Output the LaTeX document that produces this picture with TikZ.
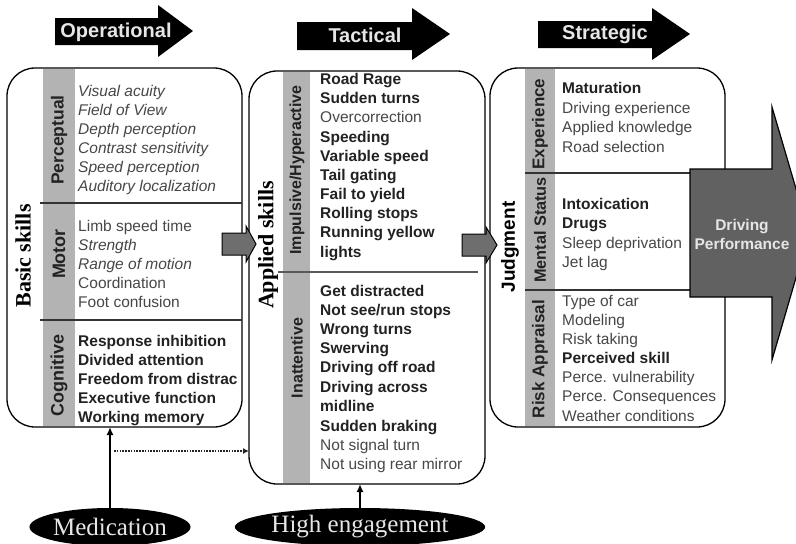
\documentclass[tikz,border=0pt]{standalone}
\usepackage{fontspec}
\setmainfont{Liberation Serif}
\setsansfont{Liberation Sans}
\usetikzlibrary{shapes.geometric,arrows.meta}
\definecolor{stripe}{HTML}{B3B3B3}
\definecolor{txtrm}{HTML}{474747}
\definecolor{txtbf}{HTML}{222222}
\definecolor{dpfill}{HTML}{616161}
\definecolor{garrow}{HTML}{6E6E6E}
\definecolor{lighttxt}{HTML}{E6E6E6}
\tikzset{
  panel/.style={draw=black, line width=1.3pt, rounded corners=28pt, fill=white, inner sep=0pt, outer sep=0pt},
  itm/.style={anchor=west, inner sep=0pt, text height=11pt, text depth=3pt, text=txtrm, font=\sffamily\fontsize{15.5}{18}\selectfont},
  rmi/.style={text=txtrm},
  iti/.style={text=txtrm, font=\sffamily\itshape\fontsize{15.5}{18}\selectfont},
  bfi/.style={text=txtbf, font=\sffamily\bfseries\fontsize{15.5}{18}\selectfont},
  cat/.style={rotate=90, inner sep=0pt, text=txtbf, font=\sffamily\bfseries\fontsize{17}{20}\selectfont},
  bigl/.style={rotate=90, inner sep=0pt, text=black, font=\bfseries\fontsize{22}{26}\selectfont},
  hdrtext/.style={inner sep=0pt, text=lighttxt, font=\sffamily\bfseries\fontsize{20}{24}\selectfont},
  divider/.style={draw=black!80, line width=1.4pt},
  garr/.style={fill=garrow, draw=black, line width=1pt},
  oval/.style={ellipse, fill=black, inner sep=0pt, minimum height=38pt, text=lighttxt, font=\fontsize{25}{30}\selectfont},
  conn/.style={draw=black, line width=2.2pt, -{Latex[length=8pt,width=7pt]}},
  dotconn/.style={draw=black!85, line width=1.8pt, dash pattern=on 1.6pt off 1.2pt, -{Latex[length=6pt,width=6pt]}}
}
\newcommand\itemline[4]{\node[itm,#2] (#1) at #3 {#4};}
\begin{document}
\begin{tikzpicture}[x=1pt,y=-1pt]
\useasboundingbox (0,0) rectangle (796,544);
\clip (0,0) rectangle (796,544);

% header arrows
\fill[black] (55,18) -- (158,18) -- (158,5) -- (193,31) -- (158,57) -- (158,45) -- (55,45) -- cycle;
\node[hdrtext] (hop) at (116,32) {Operational};
\fill[black] (297,22) -- (412,22) -- (412,8) -- (450,34) -- (412,60) -- (412,50) -- (297,50) -- cycle;
\node[hdrtext] (htac) at (365,35) {Tactical};
\fill[black] (538,21) -- (652,21) -- (652,8) -- (690,34) -- (652,60) -- (652,48) -- (538,48) -- cycle;
\node[hdrtext] (hstr) at (605,34) {Strategic};

% panels
\node[panel, minimum width=235pt, minimum height=359pt] (lp) at (124.5,247.5) {};
\node[panel, minimum width=236pt, minimum height=413pt] (mp) at (367,277.5) {};
\node[panel, minimum width=235pt, minimum height=359pt] (rp) at (607.5,247.5) {};

% stripes
\fill[stripe] (43,68.7) rectangle (75,426.3);
\fill[stripe] (283,71.7) rectangle (310,483.3);
\fill[stripe] (525,68.7) rectangle (555,426.3);

% dividers
\draw[divider] (40,203) -- (242,203);
\draw[divider] (40,320) -- (242,320);
\draw[divider, draw=black!65] (278,272) -- (478,272);
\draw[divider] (525,173) -- (725,173);
\draw[divider] (525,290) -- (725,290);

% big rotated labels
\node[bigl] (basic) at (23,256) {Basic skills};
\node[bigl] (applied) at (268,245) {Applied skills};
\node[bigl, font=\sffamily\bfseries\fontsize{19}{23}\selectfont] (judg) at (510,247) {Judgment};

% category labels
\node[cat, font=\sffamily\bfseries\fontsize{17.5}{20}\selectfont] (cper) at (59,140) {Perceptual};
\node[cat, font=\sffamily\bfseries\fontsize{18}{20}\selectfont] (cmot) at (59,254) {Motor};
\node[cat, font=\sffamily\bfseries\fontsize{18}{20}\selectfont] (ccog) at (59,375) {Cognitive};
\node[cat, font=\sffamily\bfseries\fontsize{16}{20}\selectfont] (cimp) at (297,170) {Impulsive/Hyperactive};
\node[cat, font=\sffamily\bfseries\fontsize{16}{20}\selectfont] (cina) at (297,358) {Inattentive};
\node[cat] (cexp) at (540,124) {Experience};
\node[cat, font=\sffamily\bfseries\fontsize{16.3}{20}\selectfont] (cmen) at (540,230) {Mental Status};
\node[cat] (crisk) at (540,359) {Risk Appraisal};

% left panel items
\itemline{pa}{iti}{(78,92)}{Visual acuity}
\itemline{pb}{iti}{(78,111)}{Field of View}
\itemline{pc}{iti}{(78,130)}{Depth perception}
\itemline{pd}{iti}{(78,149)}{Contrast sensitivity}
\itemline{pe}{iti}{(78,168)}{Speed perception}
\itemline{pf}{iti}{(78,187)}{Auditory localization}
\itemline{ma}{rmi}{(78,227)}{Limb speed time}
\itemline{mb}{iti}{(78,246)}{Strength}
\itemline{mc}{iti}{(78,265)}{Range of motion}
\itemline{md}{rmi}{(78,284)}{Coordination}
\itemline{me}{rmi}{(78,303)}{Foot confusion}
\itemline{ca}{bfi}{(78,342)}{Response inhibition}
\itemline{cb}{bfi}{(78,361)}{Divided attention}
\itemline{cc}{bfi}{(78,380)}{Freedom from distrac}
\itemline{cd}{bfi}{(78,399)}{Executive function}
\itemline{ce}{bfi}{(78,418)}{Working memory}

% middle panel items
\itemline{ia}{bfi}{(320,80)}{Road Rage}
\itemline{ib}{bfi}{(320,99)}{Sudden turns}
\itemline{ic}{rmi}{(320,118)}{Overcorrection}
\itemline{id}{bfi}{(320,138)}{Speeding}
\itemline{ie}{bfi}{(320,157)}{Variable speed}
\itemline{if}{bfi}{(320,176)}{Tail gating}
\itemline{ig}{bfi}{(320,195)}{Fail to yield}
\itemline{ih}{bfi}{(320,214)}{Rolling stops}
\itemline{ii}{bfi}{(320,233)}{Running yellow}
\itemline{ij}{bfi}{(320,253)}{lights}
\itemline{na}{bfi}{(320,292)}{Get distracted}
\itemline{nb}{bfi}{(320,311)}{Not see/run stops}
\itemline{nc}{bfi}{(320,330)}{Wrong turns}
\itemline{nd}{bfi}{(320,349)}{Swerving}
\itemline{ne}{bfi}{(320,368)}{Driving off road}
\itemline{nf}{bfi}{(320,388)}{Driving across}
\itemline{ng}{bfi}{(320,407)}{midline}
\itemline{nh}{bfi}{(320,427)}{Sudden braking}
\itemline{ni}{rmi}{(320,446)}{Not signal turn}
\itemline{nj}{rmi}{(320,465)}{Not using rear mirror}

% right panel items
\itemline{ea}{bfi}{(562,89)}{Maturation}
\itemline{eb}{rmi}{(562,109)}{Driving experience}
\itemline{ec}{rmi}{(562,128)}{Applied knowledge}
\itemline{ed}{rmi}{(562,148)}{Road selection}
\itemline{sa}{bfi}{(562,205)}{Intoxication}
\itemline{sb}{bfi}{(562,224)}{Drugs}
\itemline{sc}{rmi}{(562,244)}{Sleep deprivation}
\itemline{sd}{rmi}{(562,263)}{Jet lag}
\itemline{ra}{rmi}{(562,302)}{Type of car}
\itemline{rb}{rmi}{(562,321)}{Modeling}
\itemline{rc}{rmi}{(562,340)}{Risk taking}
\itemline{rd}{bfi}{(562,359)}{Perceived skill}
\itemline{re}{rmi}{(562,378)}{Perce. vulnerability}
\itemline{rf}{rmi}{(562,397)}{Perce. Consequences}
\itemline{rg}{rmi}{(562,417)}{Weather conditions}

% gray block arrows between panels
\draw[garr] (222,233) -- (246,233) -- (246,226) -- (256,244) -- (246,262) -- (246,255) -- (222,255) -- cycle;
\draw[garr] (462,234) -- (486,234) -- (486,227) -- (497,245) -- (486,263) -- (486,256) -- (462,256) -- cycle;

% driving performance arrow
\draw[fill=dpfill, draw=black, line width=1.2pt] (690,169) -- (772,169) -- (772,107) -- (809,233) -- (772,360) -- (772,297) -- (690,297) -- cycle;
\node[align=center, inner sep=0pt, text=lighttxt, font=\sffamily\bfseries\fontsize{15.5}{19}\selectfont] (dp) at (742,234) {Driving\\Performance};

% bottom ovals and connectors
\node[oval, minimum width=159pt] (med) at (110,527) {Medication};
\node[oval, minimum width=234pt] (he) at (360,527) {High engagement};
\draw[conn] (med.north) -- (med.north |- lp.south);
\coordinate (dstart) at (114,451);
\draw[dotconn] (dstart) -- (dstart -| mp.west);
\draw[conn, line width=1.8pt] (he.north) -- (he.north |- mp.south);
\end{tikzpicture}
\end{document}
